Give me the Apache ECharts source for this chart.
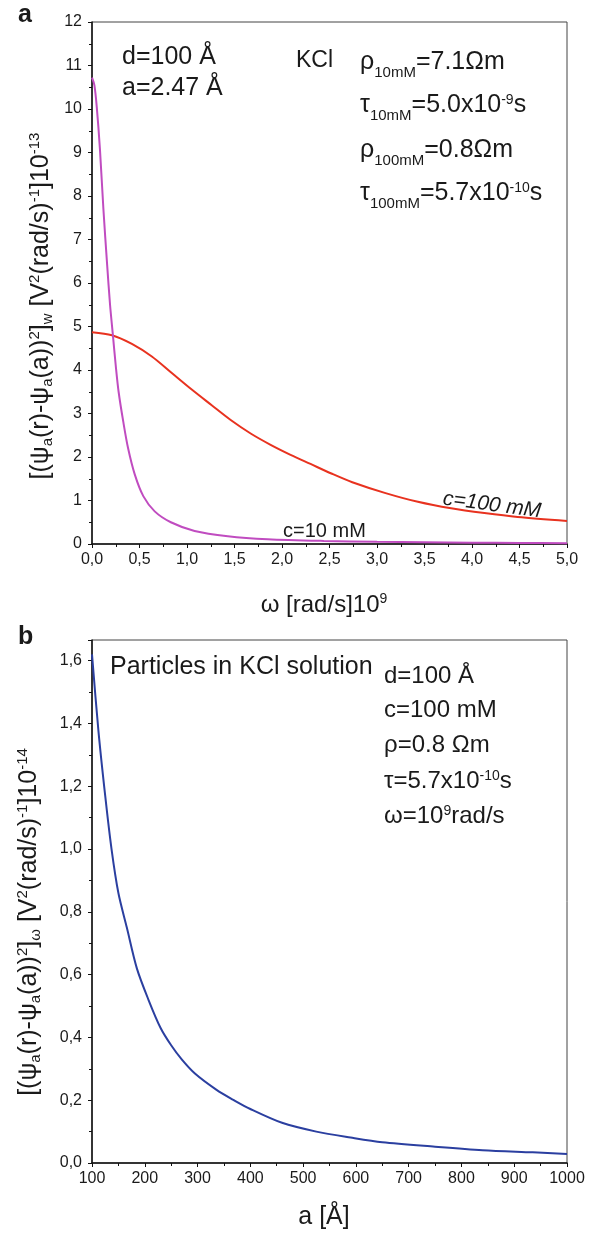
<!DOCTYPE html>
<html><head><meta charset="utf-8">
<script src="https://cdn.jsdelivr.net/npm/echarts@6/dist/echarts.min.js"></script>
<style>html,body{margin:0;padding:0;background:#fff}#c{width:590px;height:1235px}</style>
</head><body><div id="c"></div>
<script>
// ---- data ----
const omegaRed = [0, 0.21, 0.42, 0.63, 0.84, 1.05, 1.26, 1.46, 1.67, 1.88, 2.09, 2.3, 2.52, 2.74, 3.09, 3.43, 3.78, 4.13, 4.48, 5.0];
const valRed   = [4.87, 4.80, 4.60, 4.31, 3.93, 3.55, 3.19, 2.85, 2.54, 2.28, 2.05, 1.84, 1.62, 1.42, 1.17, 0.97, 0.82, 0.71, 0.62, 0.53];
const omegaPurple = [0, 0.025, 0.05, 0.084, 0.12, 0.16, 0.19, 0.22, 0.25, 0.28, 0.33, 0.38, 0.45, 0.54, 0.66, 0.83, 1.08, 1.43, 1.85, 2.44, 3.0, 3.5, 4.0, 4.5, 5.0];
const valPurple   = [10.72, 10.55, 10.05, 9.06, 7.7, 6.4, 5.5, 4.8, 4.1, 3.5, 2.8, 2.2, 1.6, 1.1, 0.75, 0.5, 0.3, 0.18, 0.11, 0.07, 0.05, 0.04, 0.03, 0.025, 0.02];
const aBlue   = [100, 112, 125, 137, 150, 166, 185, 207, 230, 250, 270, 295, 336, 368, 400, 460, 525, 590, 650, 750, 840, 935, 1000];
const valBlue = [1.62, 1.38, 1.17, 1.00, 0.86, 0.75, 0.62, 0.52, 0.43, 0.375, 0.33, 0.285, 0.233, 0.201, 0.172, 0.128, 0.100, 0.081, 0.066, 0.052, 0.041, 0.034, 0.029];

const FF = '"Liberation Sans", Arial, Helvetica, sans-serif';
const INK = '#1a1a1a';
const zip = (xs, ys) => xs.map((x, i) => [x, ys[i]]);
const comma1 = v => v.toFixed(1).replace('.', ',');

function rs(size, pad, extra) {
  return Object.assign({fontSize: size, fontFamily: FF, fill: INK, padding: pad}, extra || {});
}
function T(x, y, text, size, opts) {
  opts = opts || {};
  return {
    type: 'text', x: x, y: y, rotation: opts.rotation || 0, silent: true,
    style: {
      text: text, fontSize: size, fontFamily: FF, fill: INK,
      fontWeight: opts.weight || 'normal', fontStyle: opts.italic ? 'italic' : 'normal',
      align: opts.align || 'left', verticalAlign: 'middle',
      rich: opts.rich || {}
    }
  };
}

const richY = {
  s: rs(15, [14, 0, 0, 0]),
  p: rs(15, [0, 0, 12, 0])
};
const richK = {
  s: rs(15, [22, 0, 0, 0]),
  p: rs(14, [0, 0, 10, 0])
};

const axisCommon = {
  type: 'value',
  axisLine: {show: true, onZero: false, lineStyle: {color: '#111', width: 1.5}},
  axisTick: {show: true, inside: false, length: 4, lineStyle: {color: '#111'}},
  minorTick: {show: true, splitNumber: 2, length: 3, lineStyle: {color: '#111'}},
  splitLine: {show: false},
  axisLabel: {fontSize: 16, fontFamily: FF, color: INK}
};
function ax(o) { return echarts.util.merge(JSON.parse(JSON.stringify(axisCommon)), o, true); }

const chart = echarts.init(document.getElementById('c'), null, {renderer: 'canvas'});
chart.setOption({
  animation: false,
  backgroundColor: '#fff',
  grid: [
    {left: 92, top: 22, width: 475, height: 522, show: true, borderColor: '#444', borderWidth: 1},
    {left: 92, top: 640, width: 475, height: 523, show: true, borderColor: '#444', borderWidth: 1}
  ],
  xAxis: [
    ax({gridIndex: 0, min: 0, max: 5, interval: 0.5, axisLabel: {margin: 8, formatter: comma1}}),
    ax({gridIndex: 1, min: 100, max: 1000, interval: 100, axisLabel: {margin: 8, formatter: v => String(v)}})
  ],
  yAxis: [
    ax({gridIndex: 0, min: 0, max: 12, interval: 1, axisLabel: {margin: 10}}),
    ax({gridIndex: 1, min: 0, max: 1.666, interval: 0.2, axisLabel: {margin: 10, showMaxLabel: false, formatter: comma1}})
  ],
  series: [
    {type: 'line', xAxisIndex: 0, yAxisIndex: 0, data: zip(omegaRed, valRed), smooth: 0.3,
     showSymbol: false, lineStyle: {color: '#e8321f', width: 2}},
    {type: 'line', xAxisIndex: 0, yAxisIndex: 0, data: zip(omegaPurple, valPurple), smooth: 0.3,
     showSymbol: false, lineStyle: {color: '#c04cc0', width: 2}},
    {type: 'line', xAxisIndex: 1, yAxisIndex: 1, data: zip(aBlue, valBlue), smooth: 0.3,
     showSymbol: false, lineStyle: {color: '#2b3fa0', width: 2}}
  ],
  graphic: [
    T(18, 15, 'a', 25, {weight: 'bold'}),
    T(18, 637, 'b', 25, {weight: 'bold'}),
    // top chart annotations
    T(122, 57, 'd=100 Å', 25),
    T(122, 88, 'a=2.47 Å', 25),
    T(296, 61, 'KCl', 23),
    T(360, 62, 'ρ{s|10mM}=7.1Ωm', 25, {rich: richK}),
    T(360, 105, 'τ{s|10mM}=5.0x10{p|-9}s', 25, {rich: richK}),
    T(360, 150, 'ρ{s|100mM}=0.8Ωm', 25, {rich: richK}),
    T(360, 193, 'τ{s|100mM}=5.7x10{p|-10}s', 25, {rich: richK}),
    T(283, 531, 'c=10 mM', 20),
    T(492, 505, 'c=100 mM', 21, {align: 'center', rotation: -0.13, italic: true}),
    // axis titles
    T(324, 605, 'ω [rad/s]10{p|9}', 24, {align: 'center', rich: {p: rs(14, [0, 0, 12, 0])}}),
    T(324, 1217, 'a [Å]', 25, {align: 'center'}),
    T(41, 306, '[(ψ{s|a}(r)-ψ{s|a}(a)){p|2}]{s|w} [V{p|2}(rad/s){p|-1}]10{p|-13}', 25, {align: 'center', rotation: Math.PI / 2, rich: richY}),
    T(29, 922, '[(ψ{s|a}(r)-ψ{s|a}(a)){p|2}]{s|ω} [V{p|2}(rad/s){p|-1}]10{p|-14}', 25, {align: 'center', rotation: Math.PI / 2, rich: richY}),
    // bottom chart annotations
    T(110, 667, 'Particles in KCl solution', 25),
    T(384, 676, 'd=100 Å', 24),
    T(384, 710, 'c=100 mM', 24),
    T(384, 745, 'ρ=0.8 Ωm', 24),
    T(384, 781, 'τ=5.7x10{p|-10}s', 24, {rich: richK}),
    T(384, 816, 'ω=10{p|9}rad/s', 24, {rich: richK})
  ]
});
</script>
</body></html>
